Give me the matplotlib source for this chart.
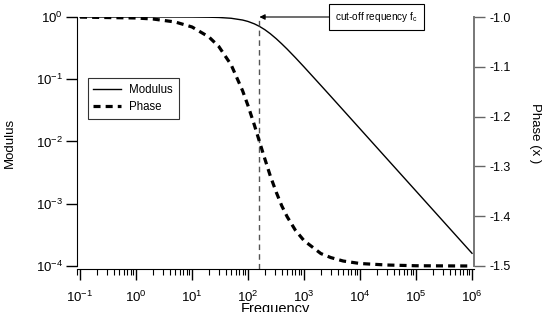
import math
import matplotlib
matplotlib.use("Agg")
import matplotlib.pyplot as plt
from matplotlib.ticker import LogLocator, NullFormatter, FixedLocator

plt.rcParams['font.family'] = ['Liberation Sans', 'DejaVu Sans']
plt.rcParams['mathtext.fontset'] = 'custom'
plt.rcParams['mathtext.rm'] = 'Liberation Sans'
plt.rcParams['mathtext.it'] = 'Liberation Sans:italic'

# --- Data ---
freq = [0.1, 1, 2, 5, 10, 20, 30, 50, 80, 100, 130, 160, 200, 250, 320, 400,
        500, 700, 1000, 2000, 3000, 5000, 1e4, 3e4, 1e5, 1e6]
modulus = [1.0, 1.0, 1.0, 0.9995, 0.998, 0.992, 0.983, 0.954, 0.894, 0.848,
           0.776, 0.707, 0.625, 0.539, 0.447, 0.371, 0.305, 0.223, 0.158,
           0.0797, 0.0533, 0.0320, 0.0160, 0.00533, 0.0016, 0.00016]
phase = [-1.0002, -1.002, -1.004, -1.010, -1.020, -1.040, -1.059, -1.096,
         -1.148, -1.178, -1.217, -1.25, -1.285, -1.319, -1.352, -1.379,
         -1.401, -1.428, -1.449, -1.475, -1.483, -1.490, -1.495, -1.498,
         -1.4995, -1.5]
f_cut = 160
xticks = [0.1, 1, 10, 100, 1e3, 1e4, 1e5, 1e6]
mod_ticks = [1e-4, 1e-3, 1e-2, 1e-1, 1]
phase_ticks = [-1.0, -1.1, -1.2, -1.3, -1.4, -1.5]

W, H = 542, 312
fig = plt.figure(figsize=(W / 100, H / 100), dpi=100)
ax = fig.add_axes([77 / W, 1 - 269 / H, (474 - 77) / W, (269 - 17) / H])
ax2 = ax.twinx()

# modulus (left axis)
ax.plot(freq, modulus, color='black', lw=1.0, label='Modulus')
ax.axvline(f_cut, color='#555555', lw=1.0, ls=(0, (4, 3)))
ax.set_xscale('log')
ax.set_yscale('log')
ax.set_xlim(0.1 * 10 ** (-3 / 56), 1e6 * 10 ** (2 / 56))
ax.set_ylim(1e-4 * 10 ** (-3 / 62), 1.0)

# phase (right axis)
ax2.plot(freq, phase, color='black', lw=2.3, ls=(0, (2.2, 1.6)), label='Phase')
ax2.set_ylim(-1.5 - 3 / 498, -1.0)
ax2.set_yticks(phase_ticks)
ax2.set_yticklabels(['%.1f' % t for t in phase_ticks])

# spines
for s in ['top', 'right']:
    ax.spines[s].set_visible(False)
for s in ['top', 'left', 'bottom']:
    ax2.spines[s].set_visible(False)
ax.spines['left'].set_bounds(1e-4, 1.0)
ax2.spines['right'].set_color('#777777')
ax2.spines['right'].set_linewidth(1.4)
ax2.spines['right'].set_bounds(-1.5, -1.0)

# ticks
ax.yaxis.set_major_locator(FixedLocator(mod_ticks))
ax.yaxis.set_minor_locator(plt.NullLocator())
ax.xaxis.set_major_locator(FixedLocator(xticks))
ax.xaxis.set_minor_locator(LogLocator(base=10, subs=range(2, 10), numticks=20))
ax.xaxis.set_minor_formatter(NullFormatter())
ax.set_xticklabels(['$10^{%d}$' % round(math.log10(t)) for t in xticks])
ax.set_yticklabels(['$10^{%d}$' % round(math.log10(t)) for t in mod_ticks])
ax.tick_params(axis='x', which='major', direction='out', length=8, width=1,
               labelsize=9.5, pad=7)
ax.tick_params(axis='x', which='minor', direction='out', length=4, width=0.8)
ax.tick_params(axis='y', which='major', direction='out', length=8, width=1,
               labelsize=9.5, pad=2)
ax2.tick_params(axis='y', direction='out', length=8, width=1, color='#666666',
                labelsize=9, pad=3)

ax.set_xlabel('Frequency', fontsize=10.5, labelpad=-2.5)
ax.set_ylabel('Modulus', fontsize=9.5)
ax.yaxis.set_label_coords(-0.155, 0.5)
ax2.set_ylabel('Phase (x )', fontsize=9.5, rotation=270)
ax2.yaxis.set_label_coords(1.168, 0.54)

# annotation
ax.annotate('cut-off requency f$_{\\mathrm{c}}$', xy=(f_cut, 1.0),
            xytext=((330 - 77) / (474 - 77) + 0.013, 1.0),
            textcoords='axes fraction', xycoords='data',
            ha='left', va='center', fontsize=7.2,
            bbox=dict(boxstyle='square,pad=0.6', fc='white', ec='black', lw=0.8),
            arrowprops=dict(arrowstyle='-|>', color='black', lw=0.8,
                            mutation_scale=8, shrinkA=0, shrinkB=0),
            annotation_clip=False)

# legend
h1, l1 = ax.get_legend_handles_labels()
h2, l2 = ax2.get_legend_handles_labels()
leg = ax2.legend(h1 + h2, l1 + l2, loc='upper left',
                 bbox_to_anchor=(0.027, 0.757), fontsize=8.3, frameon=True,
                 fancybox=False, edgecolor='black', handlelength=2.4,
                 borderpad=0.5, labelspacing=0.45, handletextpad=0.7,
                 borderaxespad=0)
leg.get_frame().set_linewidth(0.8)

fig.savefig('out.png', dpi=100)
